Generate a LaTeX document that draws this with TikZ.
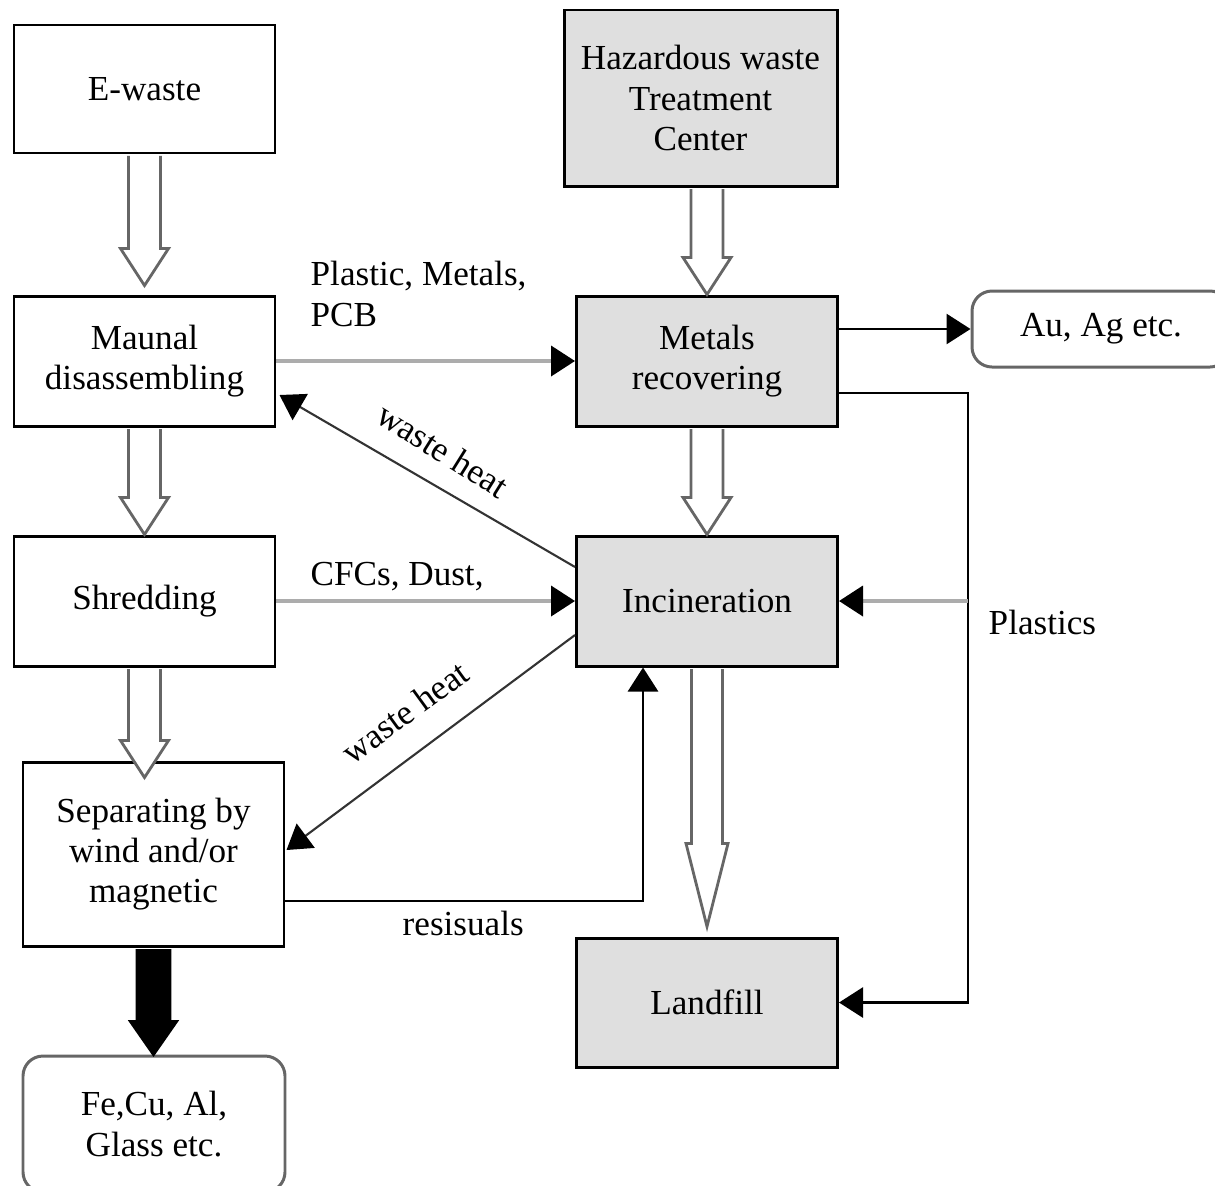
\documentclass[tikz,border=0pt]{standalone}
\usepackage{fontspec}
\setmainfont{Liberation Serif}
\usetikzlibrary{arrows.meta,calc}

\tikzset{
  box/.style={draw,line width=0.85pt,inner sep=0pt,align=center,
    minimum width=26.1mm,minimum height=13mm},
  hz/.style={box,fill=gray!25},
  outbox/.style={draw=black!60,line width=0.85pt,rounded corners=2mm,
    inner sep=0pt,align=center},
  lbl/.style={inner sep=0pt},
  flow/.style={-{Triangle[length=2.4mm,width=3mm,color=black]},line width=0.8pt},
  grayflow/.style={flow,draw=gray!65,line width=1.1pt},
  heat/.style={-{Triangle[length=2.4mm,width=3mm,color=black]},line width=0.6pt,draw=black!80},
  % fat arrow: head length, head half width, shaft half width
  fat/.style n args={3}{line width=0.8pt,
    to path={($(\tikztostart)+(-#3,1.5)$)
      -- ($(\tikztostart|-\tikztotarget)+(-#3,-#1)$) -- ++(-#2+#3,0)
      -- (\tikztostart|-\tikztotarget)
      -- ($(\tikztostart|-\tikztotarget)+(#2,-#1)$) -- ++(-#2+#3,0)
      -- ($(\tikztostart)+(#3,1.5)$)}},
  hollow/.style={fat={37}{24}{16},draw=black!60,fill=white},
  hollowlong/.style={fat={83}{21}{15.5},draw=black!60,fill=white},
  solid/.style={fat={33}{23}{16.5},draw=black,fill=black},
}

\begin{document}
\begin{tikzpicture}[x=0.1mm,y=-0.1mm,font=\fontsize{10}{11.5}\selectfont]
\useasboundingbox (0,0) rectangle (1215,1185);
\clip (0,0) rectangle (1215,1185);

% boxes
\node[box,minimum height=12.8mm] (ewaste) at (144.5,89) {E-waste};
\node[hz,minimum width=27.3mm,minimum height=17.6mm] (haz) at (700.5,98) {Hazardous waste\\Treatment\\Center};
\node[box] (maunal) at (144.5,361) {Maunal\\disassembling};
\node[hz] (metals) at (707,361) {Metals\\recovering};
\node[outbox,minimum width=25.8mm,minimum height=7.6mm] (au) at (1101,329) {Au, Ag etc.};
\node[box] (shred) at (144.5,601) {Shredding};
\node[hz] (incin) at (707,601) {Incineration};
\node[box,minimum height=18.4mm] (separ) at (153.5,854) {Separating by\\wind and/or\\magnetic};
\node[hz,minimum height=12.9mm] (landfill) at (707,1002.5) {Landfill};
\node[outbox,minimum width=26.2mm,minimum height=13.6mm] (fecu) at (154,1124) {Fe,Cu, Al,\\Glass etc.};

% fat arrows
\coordinate (t1) at ($(maunal.north)+(0,-9)$);
\coordinate (h0) at (haz.south -| metals.north);
\coordinate (t2) at ($(separ.north)+(0,17)$);
\coordinate (t3) at ($(landfill.north)+(0,-10)$);
\draw[hollow] (ewaste.south) to (t1);
\draw[hollow] (h0) to (metals.north);
\draw[hollow] (maunal.south) to (shred.north);
\draw[hollow] (metals.south) to (incin.north);
\draw[hollow] (shred.south) to (t2);
\draw[hollowlong] (incin.south) to (t3);
\draw[solid] (separ.south) to (fecu.north);

% flows
\coordinate (bend) at (968,393);
\coordinate (res) at (643,901);
\draw[grayflow] (maunal) -- (metals);
\draw[grayflow] (shred) -- (incin);
\draw[flow] (metals.east |- au) -- (au.west);
\draw[flow] (metals.east |- bend) -- (bend) |- (landfill.east);
\draw[grayflow] (bend |- incin) -- (incin.east);
\draw[flow] (separ.east |- res) -| (res |- incin.south);
\draw[heat] ($(incin.west)+(0,-34)$) -- ($(maunal.east)+(3,34)$);
\draw[heat] ($(incin.west)+(0,34)$) -- ($(separ.east)+(1,-4)$);

% labels
\node[lbl,anchor=base west,align=left] (lpm) at (310,326) {Plastic, Metals,\\PCB};
\node[lbl,anchor=base west] (lcfc) at (310,585) {CFCs, Dust,};
\node[lbl,anchor=base west] (lplast) at (988,634) {Plastics};
\node[lbl,anchor=base west] (lres) at (402,935) {resisuals};
\node[rotate=-32] (lheat1) at (443,450) {waste heat};
\node[rotate=36] (lheat2) at (405,712) {waste heat};
\end{tikzpicture}
\end{document}
